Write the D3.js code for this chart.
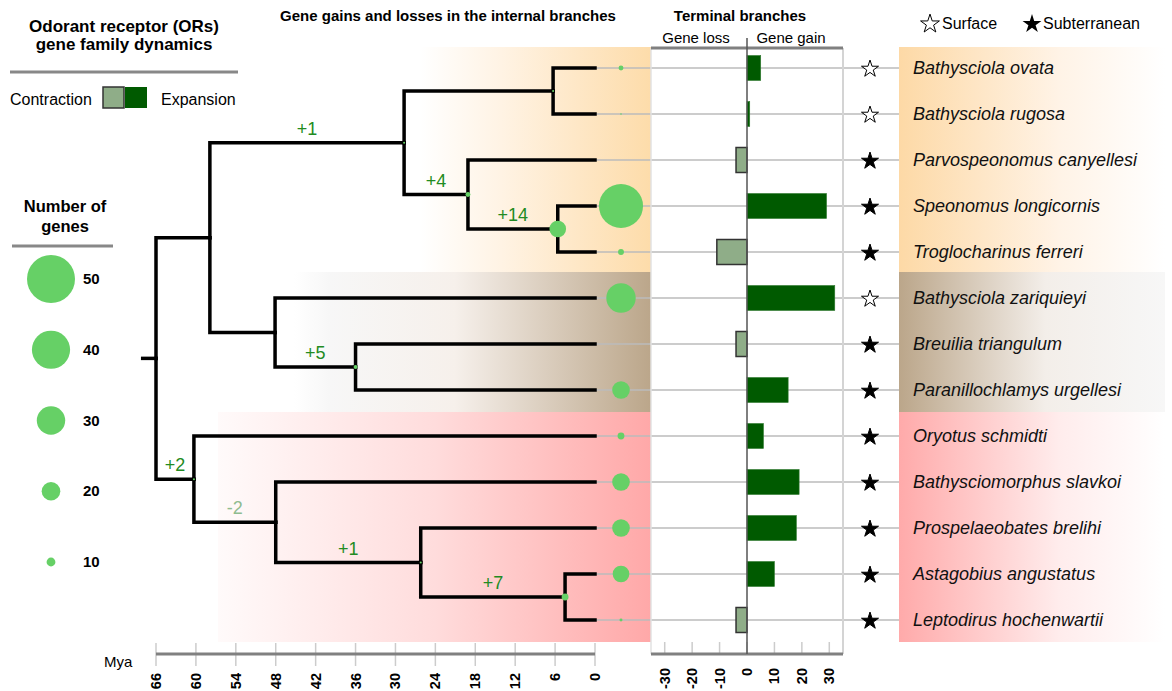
<!DOCTYPE html>
<html lang="en">
<head>
<meta charset="UTF-8">
<title>OR gene family dynamics</title>
<script src="https://d3js.org/d3.v7.min.js"></script>
<style>
  body { margin: 0; background: #fff; }
  svg { font-family: "Liberation Sans", Arial, sans-serif; }
  .branch { fill: none; stroke: #000; stroke-width: 3.5px; stroke-linejoin: miter; stroke-linecap: square; }
  .row { stroke: #bbb; stroke-width: 1.5px; }
  .species { font-style: italic; font-size: 18px; fill: #111; }
  .head { font-weight: bold; font-size: 15px; }
</style>
</head>
<body>
<script>
// leaves, top to bottom
const species = ["Bathysciola ovata", "Bathysciola rugosa", "Parvospeonomus canyellesi",
  "Speonomus longicornis", "Troglocharinus ferreri", "Bathysciola zariquieyi",
  "Breuilia triangulum", "Paranillochlamys urgellesi", "Oryotus schmidti",
  "Bathysciomorphus slavkoi", "Prospelaeobates brelihi", "Astagobius angustatus",
  "Leptodirus hochenwartii"];
const habitat = ["surface", "surface", "subterranean", "subterranean", "subterranean", "surface",
  "subterranean", "subterranean", "subterranean", "subterranean", "subterranean", "subterranean", "subterranean"];
const leafParent = ["C", "C", "D", "E", "E", "F", "G", "G", "H", "I", "J", "K", "K"];
const leafGenes = [6, 2, 0, 46, 7, 31, 0, 19, 8, 19, 19, 18, 4];
const terminalChange = [5, 1, -4, 29, -11, 32, -4, 15, 6, 19, 18, 10, -4];

// internal nodes
const nodeIds = ["root", "A", "B", "C", "D", "E", "F", "G", "H", "I", "J", "K"];
const nodeParent = [null, "root", "A", "B", "B", "D", "A", "F", "root", "H", "I", "J"];
const nodeAge = [66, 57.9, 28.7, 6.3, 19.1, 5.6, 48.1, 36, 60.3, 48, 26.2, 4.5];
const nodeGenes = [0, 0, 3, 2, 6, 18, 0, 5, 3, 0, 2, 8];
const branchChange = [null, null, 1, null, 4, 14, null, 5, 2, -2, 1, 7];

const timeTicks = [66, 60, 54, 48, 42, 36, 30, 24, 18, 12, 6, 0];
const barTicks = [-30, -20, -10, 0, 10, 20, 30];
const sizeLegend = [50, 40, 30, 20, 10];

const gainColor = "#005a00", lossColor = "#8fad88", dotColor = "#66d066";

const svg = d3.select("body").append("svg")
  .attr("width", 1172).attr("height", 691);

const xTime = d3.scaleLinear().domain([66, 0]).range([156, 595]);
const yRow = d3.scalePoint().domain(species).range([68, 620]);
const xBar = d3.scaleLinear().domain([-35, 35]).range([651, 843]);
const rGenes = d3.scaleLinear().domain([1, 50]).range([0, 24]).clamp(true);

// background clade bands
const defs = svg.append("defs");
function grad(id, stops) {
  const g = defs.append("linearGradient").attr("id", id);
  stops.forEach(s => g.append("stop").attr("offset", s[0]).attr("stop-color", s[1]));
}
grad("gTop", [[0, "#ffffff"], [0.35, "#fff3e4"], [1, "#fddcaa"]]);
grad("gMid", [[0, "#ffffff"], [0.1, "#f7f7f7"], [0.45, "#f6f0eb"], [1, "#bba68a"]]);
grad("gLow", [[0, "#fffafa"], [0.5, "#ffdcdc"], [1, "#ffa8a8"]]);
grad("gTopR", [[0, "#fdd9a6"], [0.6, "#fff3e6"], [1, "#ffffff"]]);
grad("gMidR", [[0, "#bba68a"], [0.55, "#f3eee9"], [1, "#f7f7f7"]]);
grad("gLowR", [[0, "#ffaaaa"], [0.6, "#ffecec"], [1, "#ffffff"]]);

const bands = [
  {x0: 420, x1: 651, y0: 47, y1: 272, fill: "gTop", right: "gTopR"},
  {x0: 294, x1: 651, y0: 272, y1: 412, fill: "gMid", right: "gMidR"},
  {x0: 218, x1: 651, y0: 412, y1: 642, fill: "gLow", right: "gLowR"}
];
bands.forEach(b => {
  svg.append("rect").attr("x", b.x0).attr("y", b.y0).attr("width", b.x1 - b.x0)
    .attr("height", b.y1 - b.y0).attr("fill", `url(#${b.fill})`);
  svg.append("rect").attr("x", 899).attr("y", b.y0).attr("width", 266)
    .attr("height", b.y1 - b.y0).attr("fill", `url(#${b.right})`);
});

// tree
const table = nodeIds.map((id, i) => ({id, parent: nodeParent[i], age: nodeAge[i], genes: nodeGenes[i], change: branchChange[i]}))
  .concat(species.map((s, i) => ({id: s, parent: leafParent[i], age: 0, genes: leafGenes[i], change: null, leaf: i})));
const root = d3.stratify().id(d => d.id).parentId(d => d.parent)(table);
root.eachAfter(n => {
  n.x = xTime(n.data.age);
  n.y = n.children ? d3.mean(n.children, c => c.y) : yRow(n.data.id);
});

// row guide lines
svg.selectAll(".row").data(species).enter().append("line")
  .attr("class", "row")
  .attr("x1", xTime(0)).attr("x2", 899)
  .attr("y1", d => yRow(d)).attr("y2", d => yRow(d));

svg.selectAll(".branch").data(root.links()).enter().append("path")
  .attr("class", "branch")
  .attr("d", l => `M${l.source.x},${l.source.y}V${l.target.y}H${l.target.x}`);
svg.append("path").attr("class", "branch")
  .attr("d", `M${xTime(68)},${root.y}H${root.x}`);

// branch change labels
svg.selectAll(".chg").data(root.descendants().filter(n => n.data.change !== null)).enter()
  .append("text").attr("class", "chg")
  .attr("x", n => (n.parent.x + n.x) / 2).attr("y", n => n.y - 8)
  .attr("text-anchor", "middle").attr("font-size", 18)
  .attr("fill", n => n.data.change > 0 ? "#228b22" : "#8fbc8f")
  .text(n => n.data.change > 0 ? "+" + n.data.change : n.data.change);

// node gene circles
svg.selectAll(".inode").data(root.descendants().filter(n => n.children && n.data.genes > 0)).enter()
  .append("circle").attr("cx", n => n.x).attr("cy", n => n.y)
  .attr("r", n => Math.max(rGenes(n.data.genes), 1)).attr("fill", dotColor);
svg.selectAll(".lnode").data(species).enter().append("circle")
  .attr("cx", xTime(0) + 26).attr("cy", d => yRow(d))
  .attr("r", (d, i) => leafGenes[i] > 0 ? Math.max(rGenes(leafGenes[i]), 0.8) : 0)
  .attr("fill", dotColor);

// time axis
svg.selectAll(".tt").data(timeTicks).enter().append("line")
  .attr("x1", d => xTime(d)).attr("x2", d => xTime(d)).attr("y1", 643).attr("y2", 666)
  .attr("stroke", "#ccc").attr("stroke-width", 1.5);
svg.append("line").attr("x1", xTime(66)).attr("x2", xTime(0)).attr("y1", 654).attr("y2", 654)
  .attr("stroke", "#808080").attr("stroke-width", 3);
svg.selectAll(".tl").data(timeTicks).enter().append("text")
  .attr("transform", d => `translate(${xTime(d) + 5},673) rotate(-90)`)
  .attr("text-anchor", "end").attr("font-size", 14.5).attr("font-weight", "bold")
  .text(d => d);
svg.append("text").attr("x", 104).attr("y", 667).attr("font-size", 15).text("Mya");

// terminal branch bars
svg.append("line").attr("x1", 651).attr("x2", 651).attr("y1", 48).attr("y2", 654)
  .attr("stroke", "#e2e2e2").attr("stroke-width", 1.5);
svg.append("line").attr("x1", 843).attr("x2", 843).attr("y1", 48).attr("y2", 654)
  .attr("stroke", "#d4d4d4").attr("stroke-width", 2);
svg.selectAll(".bt").data(barTicks).enter().append("line")
  .attr("x1", d => xBar(d)).attr("x2", d => xBar(d)).attr("y1", 642).attr("y2", 654)
  .attr("stroke", "#ccc").attr("stroke-width", 1.5);
svg.selectAll(".bar").data(species).enter().append("rect")
  .attr("x", (d, i) => xBar(Math.min(0, terminalChange[i])))
  .attr("width", (d, i) => Math.abs(xBar(terminalChange[i]) - xBar(0)))
  .attr("y", d => yRow(d) - 12.5).attr("height", 25)
  .attr("fill", (d, i) => terminalChange[i] > 0 ? gainColor : lossColor)
  .attr("stroke", (d, i) => terminalChange[i] > 0 ? "#2f7a2f" : "#333")
  .attr("stroke-width", (d, i) => terminalChange[i] > 0 ? 0.6 : 1.5);
svg.append("line").attr("x1", 651).attr("x2", 843).attr("y1", 48).attr("y2", 48)
  .attr("stroke", "#808080").attr("stroke-width", 3);
svg.append("line").attr("x1", 651).attr("x2", 843).attr("y1", 654).attr("y2", 654)
  .attr("stroke", "#808080").attr("stroke-width", 3);
svg.append("line").attr("x1", xBar(0)).attr("x2", xBar(0)).attr("y1", 38).attr("y2", 654)
  .attr("stroke", "#555").attr("stroke-width", 1.5);
svg.selectAll(".bl").data(barTicks).enter().append("text")
  .attr("transform", d => `translate(${xBar(d) + 5},668) rotate(-90)`)
  .attr("text-anchor", "end").attr("font-size", 14.5).attr("font-weight", "bold")
  .text(d => d);

// habitat stars and species names
const star = d3.symbol().type(d3.symbolStar).size(90);
svg.selectAll(".star").data(species).enter().append("path")
  .attr("transform", d => `translate(870,${yRow(d) + 1})`)
  .attr("d", star)
  .attr("fill", (d, i) => habitat[i] === "surface" ? "#fff" : "#000")
  .attr("stroke", "#000").attr("stroke-width", 1);
svg.selectAll(".species").data(species).enter().append("text")
  .attr("class", "species").attr("x", 913).attr("y", d => yRow(d) + 6)
  .text(d => d);

const bigStar = d3.symbol().type(d3.symbolStar).size(110);
svg.append("path").attr("transform", "translate(930,24)").attr("d", bigStar)
  .attr("fill", "#fff").attr("stroke", "#000");
svg.append("text").attr("x", 942).attr("y", 29).attr("font-size", 16).text("Surface");
svg.append("path").attr("transform", "translate(1032,24)").attr("d", bigStar).attr("fill", "#000");
svg.append("text").attr("x", 1043).attr("y", 29).attr("font-size", 16).text("Subterranean");

// headers
svg.append("text").attr("class", "head").attr("x", 448).attr("y", 21).attr("text-anchor", "middle")
  .text("Gene gains and losses in the internal branches");
svg.append("text").attr("class", "head").attr("x", 740).attr("y", 21).attr("text-anchor", "middle")
  .text("Terminal branches");
svg.append("text").attr("x", 696).attr("y", 43).attr("text-anchor", "middle").attr("font-size", 15).text("Gene loss");
svg.append("text").attr("x", 791).attr("y", 43).attr("text-anchor", "middle").attr("font-size", 15).text("Gene gain");

// left legend
svg.append("text").attr("x", 124).attr("y", 32).attr("text-anchor", "middle")
  .attr("font-size", 17).attr("font-weight", "bold").text("Odorant receptor (ORs)");
svg.append("text").attr("x", 124).attr("y", 50).attr("text-anchor", "middle")
  .attr("font-size", 17).attr("font-weight", "bold").text("gene family dynamics");
svg.append("line").attr("x1", 10).attr("x2", 238).attr("y1", 72).attr("y2", 72)
  .attr("stroke", "#888").attr("stroke-width", 3);
svg.append("text").attr("x", 10).attr("y", 105).attr("font-size", 16).text("Contraction");
svg.append("rect").attr("x", 103).attr("y", 87).attr("width", 21).attr("height", 21)
  .attr("fill", lossColor).attr("stroke", "#333").attr("stroke-width", 1.5);
svg.append("rect").attr("x", 125).attr("y", 87).attr("width", 22).attr("height", 21).attr("fill", gainColor);
svg.append("text").attr("x", 161).attr("y", 105).attr("font-size", 16).text("Expansion");

svg.append("text").attr("x", 65).attr("y", 212).attr("text-anchor", "middle")
  .attr("font-size", 16.5).attr("font-weight", "bold").text("Number of");
svg.append("text").attr("x", 65).attr("y", 232).attr("text-anchor", "middle")
  .attr("font-size", 16.5).attr("font-weight", "bold").text("genes");
svg.append("line").attr("x1", 12).attr("x2", 113).attr("y1", 246).attr("y2", 246)
  .attr("stroke", "#888").attr("stroke-width", 3);
const yLeg = d3.scalePoint().domain(sizeLegend).range([279, 562]);
svg.selectAll(".leg").data(sizeLegend).enter().append("circle")
  .attr("cx", 51).attr("cy", d => yLeg(d)).attr("r", d => rGenes(d)).attr("fill", dotColor);
svg.selectAll(".legt").data(sizeLegend).enter().append("text")
  .attr("x", 83).attr("y", d => yLeg(d) + 5).attr("font-size", 15).attr("font-weight", "bold")
  .text(d => d);
</script>
</body>
</html>
